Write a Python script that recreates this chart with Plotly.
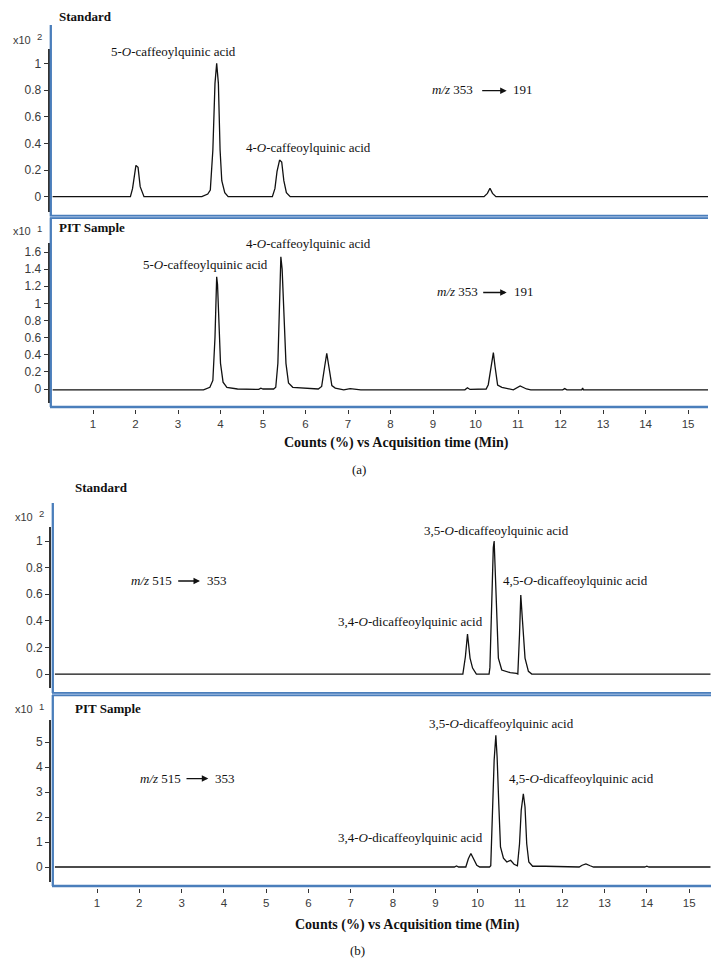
import plotly.graph_objects as go

# ---------------- DATA ----------------
# (a) m/z 353 -> 191, Standard (x10^2)
a_std_t = [0.05, 1.88, 1.93, 1.97, 2.01, 2.06, 2.11, 2.20, 3.56, 3.70, 3.76, 3.82, 3.87, 3.91, 3.93, 3.95, 3.99,
           4.03, 4.10, 4.18, 5.22, 5.28, 5.33, 5.39, 5.44, 5.49, 5.55, 5.64, 10.20, 10.28, 10.34, 10.40, 10.48, 15.47]
a_std_v = [0, 0, 0.06, 0.16, 0.235, 0.22, 0.075, 0, 0, 0.02, 0.05, 0.35, 0.85, 1.0, 0.93, 0.85, 0.35,
           0.12, 0.03, 0, 0, 0.06, 0.19, 0.275, 0.26, 0.12, 0.03, 0, 0, 0.025, 0.063, 0.025, 0, 0]

# (a) PIT Sample (x10^1)
a_pit_t = [0.05, 3.60, 3.75, 3.82, 3.87, 3.91, 3.93, 3.96, 4.00, 4.06, 4.15, 4.40, 4.60, 4.90, 4.95, 5.00, 5.25,
           5.30, 5.35, 5.39, 5.42, 5.45, 5.49, 5.54, 5.60, 5.70, 6.30, 6.38, 6.45, 6.50, 6.55, 6.62, 6.70, 6.90,
           7.05, 7.20, 7.30, 9.75, 9.81, 9.87, 10.25, 10.30, 10.36, 10.42, 10.46, 10.52, 10.62, 10.89, 11.05,
           11.20, 11.30, 12.05, 12.10, 12.15, 12.50, 12.52, 12.54, 15.47]
a_pit_v = [-0.01, -0.01, 0.02, 0.10, 0.60, 1.31, 1.22, 0.80, 0.30, 0.08, 0.02, 0.0, -0.005, -0.005, 0.01, 0.0, 0.0,
           0.02, 0.30, 1.20, 1.545, 1.40, 0.90, 0.30, 0.07, 0.02, 0.0, 0.03, 0.26, 0.417, 0.26, 0.04, 0.01, -0.01,
           0.005, 0.0, -0.01, -0.01, 0.015, -0.005, 0.0, 0.05, 0.26, 0.424, 0.26, 0.047, 0.02, -0.01, 0.035,
           0.0, -0.01, -0.01, 0.005, -0.01, -0.01, 0.01, -0.01, -0.01]

# (b) m/z 515 -> 353, Standard (x10^2)
b_std_t = [0.0, 9.65, 9.71, 9.76, 9.82, 9.88, 9.97, 10.27, 10.29, 10.33, 10.37, 10.39, 10.41, 10.45, 10.49,
           10.57, 10.77, 10.92, 10.95, 10.99, 11.02, 11.06, 11.12, 11.20, 11.28, 15.51]
b_std_v = [0, 0, 0.13, 0.30, 0.12, 0.045, 0, 0, 0.05, 0.55, 0.95, 1.0, 0.85, 0.45, 0.12,
           0.03, 0.01, 0.005, 0.0, 0.30, 0.594, 0.40, 0.12, 0.02, 0.0, 0.0]

# (b) PIT Sample (x10^1)
b_pit_t = [0.0, 6.98, 7.04, 7.10, 9.45, 9.50, 9.55, 9.72, 9.78, 9.84, 9.90, 9.98, 10.05, 10.28, 10.31, 10.35,
           10.39, 10.43, 10.46, 10.50, 10.54, 10.61, 10.69, 10.78, 10.86, 10.94, 10.99, 11.03, 11.08, 11.12,
           11.16, 11.21, 11.30, 11.60, 12.05, 12.15, 12.40, 12.47, 12.56, 12.66, 12.74, 13.95, 14.00, 14.05, 15.51]
b_pit_v = [0.0, 0.0, 0.03, 0.0, 0.0, 0.04, 0.0, 0.0, 0.33, 0.54, 0.33, 0.07, 0.0, 0.0, 0.05, 2.27,
           4.27, 5.27, 4.4, 2.5, 0.8, 0.35, 0.2, 0.27, 0.11, 0.05, 0.93, 2.27, 2.93, 2.4,
           0.93, 0.2, 0.03, 0.03, 0.02, 0.0, 0.0, 0.07, 0.12, 0.05, 0.0, 0.0, 0.03, 0.0, 0.0]

x_ticks = list(range(1, 16))
x_tick_text = [str(v) for v in x_ticks]
y_std_ticks = [0, 0.2, 0.4, 0.6, 0.8, 1.0]
y_std_text = ["0", "0.2", "0.4", "0.6", "0.8", "1"]
y_apit_ticks = [0, 0.2, 0.4, 0.6, 0.8, 1.0, 1.2, 1.4, 1.6]
y_apit_text = ["0", "0.2", "0.4", "0.6", "0.8", "1", "1.2", "1.4", "1.6"]
y_bpit_ticks = [0, 1, 2, 3, 4, 5]
y_bpit_text = ["0", "1", "2", "3", "4", "5"]

# ---------------- LAYOUT HELPERS ----------------
W, H = 722, 976
OFF = 8  # page body margin
def px(p):
    return (p - OFF) / W
def py(p):
    return 1 - (p - OFF) / H

BLUE = "#4a7ebb"
LIGHTBLUE = "#a9c3e6"
TICKFONT = dict(family="Liberation Sans, Arial, sans-serif", size=12, color="#3a3a3a")
XTICKFONT = dict(family="Liberation Sans, Arial, sans-serif", size=11.5, color="#3a3a3a")
SERIF = "Liberation Serif, Times New Roman, serif"
LINE = dict(color="#111111", width=1.3)

fig = go.Figure()
fig.add_trace(go.Scatter(x=a_std_t, y=a_std_v, mode="lines", line=LINE, xaxis="x", yaxis="y", showlegend=False))
fig.add_trace(go.Scatter(x=a_pit_t, y=a_pit_v, mode="lines", line=LINE, xaxis="x2", yaxis="y2", showlegend=False))
fig.add_trace(go.Scatter(x=b_std_t, y=b_std_v, mode="lines", line=LINE, xaxis="x3", yaxis="y3", showlegend=False))
fig.add_trace(go.Scatter(x=b_pit_t, y=b_pit_v, mode="lines", line=LINE, xaxis="x4", yaxis="y4", showlegend=False))

def yax(dom_bot, dom_top, rng, xpos, tv, tt):
    return dict(domain=[py(dom_bot), py(dom_top)], range=rng, anchor="free", position=px(xpos),
                tickmode="array", tickvals=tv, ticktext=tt, ticks="outside", ticklen=4,
                tickcolor="#333", tickwidth=1, showline=True, linecolor="#333", linewidth=1.6,
                showgrid=False, zeroline=False, tickfont=TICKFONT, fixedrange=True)

def xax_hidden(x0, x1, rng, yanchor):
    return dict(domain=[px(x0), px(x1)], range=rng, visible=False, anchor=yanchor,
                showgrid=False, zeroline=False)

def xax_shown(x0, x1, rng, ypos):
    return dict(domain=[px(x0), px(x1)], range=rng, anchor="free", position=py(ypos),
                tickmode="array", tickvals=x_ticks, ticktext=x_tick_text, ticks="outside",
                ticklen=4, tickcolor="#333", tickwidth=1, showline=False, showgrid=False,
                zeroline=False, tickfont=XTICKFONT)

fig.update_layout(
    width=W, height=H, margin=dict(l=0, r=0, t=0, b=0),
    paper_bgcolor="white", plot_bgcolor="rgba(0,0,0,0)",
    xaxis=xax_hidden(50.5, 708, [0, 15.47], "y"),
    yaxis=yax(212, 49, [-0.115, 1.108], 48.5, y_std_ticks, y_std_text),
    xaxis2=xax_shown(50.5, 708, [0, 15.47], 409),
    yaxis2=yax(403, 243, [-0.1636, 1.7056], 48.5, y_apit_ticks, y_apit_text),
    xaxis3=xax_hidden(54.7, 710.7, [0, 15.51], "y3"),
    yaxis3=yax(688, 527.3, [-0.105, 1.103], 50, y_std_ticks, y_std_text),
    xaxis4=xax_shown(54.7, 710.7, [0, 15.51], 888),
    yaxis4=yax(881.7, 720, [-0.588, 5.88], 50, y_bpit_ticks, y_bpit_text),
)

# ---------------- FRAMES ----------------
shapes = []
def line(x0, y0, x1, y1, color=BLUE, width=2.3):
    shapes.append(dict(type="line", xref="paper", yref="paper", x0=px(x0), y0=py(y0), x1=px(x1), y1=py(y1),
                       line=dict(color=color, width=width), layer="above"))
def dbl(x0, x1, yc):
    line(x0, yc, x1, yc, BLUE, 4.2)
    line(x0, yc, x1, yc, LIGHTBLUE, 1.0)

# (a)
line(50.8, 25, 50.8, 216.5)
line(50.8, 217.5, 50.8, 407)
dbl(50, 708, 216.8)
line(50, 407, 708, 407, BLUE, 2.4)
# (b)
line(52.8, 503, 52.8, 693)
line(52.8, 695, 52.8, 886)
dbl(52, 711, 694.2)
line(52, 886, 711, 886, BLUE, 2.4)
fig.update_layout(shapes=shapes)

# ---------------- TEXT ----------------
ann = []
def txt(x, y, s, size=13, xanchor="center", bold=False, family=SERIF, color="#111"):
    if bold:
        s = "<b>" + s + "</b>"
    ann.append(dict(xref="paper", yref="paper", x=px(x), y=py(y), text=s, showarrow=False,
                    xanchor=xanchor, yanchor="middle", font=dict(family=family, size=size, color=color)))
def arrow(x0, x1, y):
    ann.append(dict(xref="paper", yref="paper", x=px(x1), y=py(y), ax=-(x1 - x0), ay=0, axref="pixel",
                    ayref="pixel", text="", showarrow=True, arrowhead=2, arrowsize=1.0, arrowwidth=1.3,
                    arrowcolor="#111", standoff=0, startstandoff=0))
def mult(x, y, exp):
    txt(x, y, "x10", size=11, xanchor="left", family="Liberation Sans, Arial, sans-serif", color="#3a3a3a")
    txt(x + 24, y - 3, exp, size=9.5, xanchor="left", family="Liberation Sans, Arial, sans-serif", color="#3a3a3a")

# (a) Standard
ann.append(dict(xref="paper", yref="paper", x=px(58), y=1.0, text="<b>Standard</b>", showarrow=False,
                xanchor="left", yanchor="top", borderpad=0,
                font=dict(family=SERIF, size=13, color="#111")))
mult(11, 40, "2")
txt(173, 52, "5-<i>O</i>-caffeoylquinic acid")
txt(308, 147, "4-<i>O</i>-caffeoylquinic acid")
txt(430, 90, "<i>m/z</i> 353", xanchor="left")
arrow(480.7, 506.7, 90.7)
txt(511, 90, "191", xanchor="left")
# (a) PIT
txt(57, 228, "PIT Sample", size=13, xanchor="left", bold=True)
mult(11, 231.5, "1")
txt(308, 243, "4-<i>O</i>-caffeoylquinic acid")
txt(205, 265, "5-<i>O</i>-caffeoylquinic acid")
txt(435, 292, "<i>m/z</i> 353", xanchor="left")
arrow(481.7, 506.7, 292.5)
txt(511.7, 292, "191", xanchor="left")
txt(396, 443, "Counts (%) vs Acquisition time (Min)", size=14, bold=True)
txt(359, 469, "(a)", size=13)

# (b) Standard
txt(73, 487, "Standard", size=13, xanchor="left", bold=True)
mult(12.5, 516.7, "2")
txt(129.3, 580.7, "<i>m/z</i> 515", xanchor="left")
arrow(176.7, 200, 581)
txt(205, 580.7, "353", xanchor="left")
txt(410, 621.7, "3,4-<i>O</i>-dicaffeoylquinic acid")
txt(496, 530.7, "3,5-<i>O</i>-dicaffeoylquinic acid")
txt(575.7, 580, "4,5-<i>O</i>-dicaffeoylquinic acid")
# (b) PIT
txt(73, 708.3, "PIT Sample", size=13, xanchor="left", bold=True)
mult(12.5, 709, "1")
txt(138.3, 778.3, "<i>m/z</i> 515", xanchor="left")
arrow(185, 208.3, 778.6)
txt(212.7, 778.3, "353", xanchor="left")
txt(410.8, 837.3, "3,4-<i>O</i>-dicaffeoylquinic acid")
txt(501.7, 723.3, "3,5-<i>O</i>-dicaffeoylquinic acid")
txt(581.5, 778.3, "4,5-<i>O</i>-dicaffeoylquinic acid")
txt(407, 925, "Counts (%) vs Acquisition time (Min)", size=14, bold=True)
txt(357, 950, "(b)", size=13)

fig.update_layout(annotations=ann)
fig.write_html("out.html")
